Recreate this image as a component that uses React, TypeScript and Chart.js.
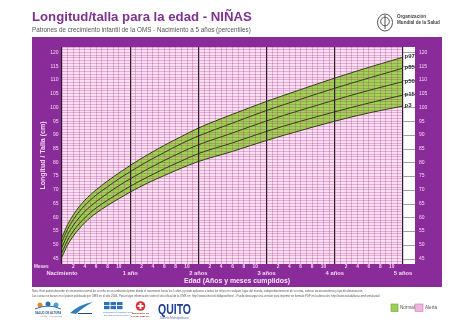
import React, { useEffect, useRef } from 'react';
import { Chart, registerables } from 'chart.js';

Chart.register(...registerables);

// ---- Data (WHO girls length/height-for-age percentiles) ----
const months = [0, 1, 2, 3, 4, 5, 6, 8, 10, 12, 15, 18, 21, 24, 30, 36, 42, 48, 54, 60];
const p3 = [45.6, 50.0, 53.2, 55.8, 58.0, 59.9, 61.5, 64.3, 66.8, 69.2, 72.4, 75.2, 77.9, 80.3, 84.0, 88.0, 91.6, 95.0, 98.0, 100.5];
const p15 = [47.2, 51.7, 55.0, 57.6, 59.8, 61.7, 63.4, 66.2, 68.8, 71.3, 74.6, 77.7, 80.5, 83.2, 87.1, 91.3, 95.0, 98.4, 101.6, 104.5];
const p50 = [49.1, 53.7, 57.1, 59.8, 62.1, 64.0, 65.7, 68.7, 71.5, 74.0, 77.5, 80.7, 83.7, 86.4, 90.7, 95.1, 99.0, 102.7, 106.2, 109.4];
const p85 = [51.1, 55.7, 59.2, 62.0, 64.3, 66.3, 68.1, 71.1, 74.0, 76.6, 80.3, 83.6, 86.8, 89.6, 94.3, 98.9, 103.0, 107.0, 110.7, 114.3];
const p97 = [52.7, 57.4, 60.9, 63.8, 66.2, 68.2, 70.0, 73.2, 76.1, 78.9, 82.7, 86.2, 89.4, 92.5, 97.5, 102.2, 106.5, 110.7, 114.6, 118.3];
const percentileNames = ['p3', 'p15', 'p50', 'p85', 'p97'];

const yTickLabels = [45, 50, 55, 60, 65, 70, 75, 80, 85, 90, 95, 100, 105, 110, 115, 120];
const monthTickLabels = [2, 4, 6, 8, 10];
const yearMonths = [0, 12, 24, 36, 48, 60];
const yearLabels = ['Nacimiento', '1 año', '2 años', '3 años', '4 años', '5 años'];

const titleText = 'Longitud/talla para la edad - NIÑAS';
const subtitleText = 'Patrones de crecimiento infantil de la OMS - Nacimiento a 5 años (percentiles)';
const yTitle = 'Longitud / Talla (cm)';
const xTitle = 'Edad (Años y meses cumplidos)';
const noteLines = [
  'Nota: Este patrón describe el crecimiento normal de un niño en un ambiente óptimo desde el nacimiento hasta los 5 años y puede aplicarse a todos los niños en cualquier lugar del mundo, independientemente de su etnia, estatus socioeconómico y tipo de alimentación.',
  'Las curvas se basan en el patrón publicado por OMS en el año 2006. Para mayor información visite el sitio oficial de la OMS en: http://www.who.int/childgrowth/es/ - Puede descargar una versión para imprimir en formato PDF en la dirección: http://www.saludaltura.com/formularios/',
];
const legendLabels = ['Normal', 'Alerta'];

const PURPLE = '#8a2b9a';
const PINK_BG = '#fbdff2';
const GREEN = '#9fd450';
const GRID = 'rgba(160,40,130,0.27)';
const LABEL = '#f3d8f0';
const FONT = '"Liberation Sans", Arial, sans-serif';

function fitText(ctx: any, text: string, x: number, y: number, w: number) {
  const tw = ctx.measureText(text).width;
  ctx.save();
  ctx.translate(x, y);
  ctx.scale(w / tw, 1);
  ctx.fillText(text, 0, 0);
  ctx.restore();
}

const decorPlugin = {
  id: 'decor',
  beforeDraw(chart: any) {
    const { ctx, chartArea: a } = chart;
    ctx.save();
    ctx.fillStyle = '#ffffff';
    ctx.fillRect(0, 0, chart.width, chart.height);
    ctx.fillStyle = PURPLE;
    ctx.fillRect(32, 37, 410, 250);
    ctx.fillStyle = PINK_BG;
    ctx.fillRect(a.left, a.top, a.right - a.left, a.bottom - a.top);
    ctx.fillStyle = '#ffffff';
    ctx.fillRect(a.right, a.top, 12, a.bottom - a.top);
    ctx.restore();
  },
  afterDraw(chart: any) {
    const { ctx, chartArea: a } = chart;
    const xs = chart.scales.x;
    const ys = chart.scales.y;
    ctx.save();

    // Header
    ctx.fillStyle = '#7e3191';
    ctx.font = `bold 13.2px ${FONT}`;
    ctx.textAlign = 'left';
    ctx.textBaseline = 'alphabetic';
    ctx.fillText(titleText, 32, 20.8);
    ctx.fillStyle = '#555';
    ctx.font = `6.3px ${FONT}`;
    ctx.fillText(subtitleText, 32, 32);

    // WHO logo
    ctx.strokeStyle = '#555';
    ctx.lineWidth = 1;
    ctx.beginPath();
    ctx.ellipse(385, 22.5, 7.5, 8.5, 0, 0, Math.PI * 2);
    ctx.stroke();
    ctx.beginPath();
    ctx.arc(385, 21.5, 4.3, 0, Math.PI * 2);
    ctx.stroke();
    ctx.beginPath();
    ctx.moveTo(385, 15);
    ctx.lineTo(385, 29);
    ctx.stroke();
    ctx.fillStyle = '#444';
    ctx.font = `bold 4.6px ${FONT}`;
    ctx.fillText('Organización', 397, 18.2);
    ctx.fillText('Mundial de la Salud', 397, 24);

    // Left y labels
    ctx.fillStyle = LABEL;
    ctx.font = `5px ${FONT}`;
    ctx.textBaseline = 'middle';
    ctx.textAlign = 'right';
    for (const v of yTickLabels) ctx.fillText(String(v), 58.5, ys.getPixelForValue(v));

    // Right strip ticks + labels
    ctx.textAlign = 'left';
    for (const v of yTickLabels) {
      const y = Math.round(ys.getPixelForValue(v)) + 0.5;
      ctx.strokeStyle = '#a0a0a0';
      ctx.lineWidth = 1;
      ctx.beginPath();
      ctx.moveTo(a.right, y);
      ctx.lineTo(a.right + 12, y);
      ctx.stroke();
      ctx.fillStyle = LABEL;
      ctx.fillText(String(v), 419, ys.getPixelForValue(v));
    }

    // Percentile labels
    ctx.fillStyle = '#333';
    ctx.font = `bold 6px ${FONT}`;
    const series = [p3, p15, p50, p85, p97];
    series.forEach((s, i) => {
      ctx.fillText(percentileNames[i], a.right + 1.5, ys.getPixelForValue(s[s.length - 1]) - 0.5);
    });

    // Y title
    ctx.save();
    ctx.translate(43.5, (a.top + a.bottom) / 2);
    ctx.rotate(-Math.PI / 2);
    ctx.textAlign = 'center';
    ctx.fillStyle = LABEL;
    ctx.font = `bold 7px ${FONT}`;
    ctx.fillText(yTitle, 0, 0);
    ctx.restore();

    // Bottom labels
    ctx.fillStyle = LABEL;
    ctx.font = `bold 4.8px ${FONT}`;
    ctx.textAlign = 'left';
    ctx.fillText('Meses', 34, 266.5);
    ctx.textAlign = 'center';
    for (let k = 0; k < 5; k++) {
      for (const m of monthTickLabels) {
        ctx.fillText(String(m), xs.getPixelForValue(12 * k + m), 266.5);
      }
    }
    ctx.font = `bold 5.8px ${FONT}`;
    yearMonths.forEach((m, i) => ctx.fillText(yearLabels[i], xs.getPixelForValue(m), 273.5));
    ctx.fillStyle = '#f6e4f4';
    ctx.font = `bold 6.9px ${FONT}`;
    ctx.fillText(xTitle, 237, 281);

    // Notes
    ctx.textAlign = 'left';
    ctx.textBaseline = 'alphabetic';
    ctx.fillStyle = '#555';
    ctx.font = `3.4px ${FONT}`;
    fitText(ctx, noteLines[0], 32, 292, 331);
    fitText(ctx, noteLines[1], 32, 296.8, 348);

    // Logos
    // Salud de Altura
    ctx.fillStyle = '#e58a2a';
    ctx.beginPath(); ctx.arc(40, 305, 2.5, 0, Math.PI * 2); ctx.fill();
    ctx.fillStyle = '#2a6fb5';
    ctx.beginPath(); ctx.arc(48, 304, 2.5, 0, Math.PI * 2); ctx.fill();
    ctx.fillStyle = '#4aa3d8';
    ctx.beginPath(); ctx.arc(56, 305, 2.5, 0, Math.PI * 2); ctx.fill();
    ctx.strokeStyle = '#2a6fb5';
    ctx.beginPath(); ctx.moveTo(35, 309); ctx.quadraticCurveTo(48, 303, 61, 309); ctx.stroke();
    ctx.fillStyle = '#2a5a9a';
    ctx.font = `bold 2.8px ${FONT}`;
    ctx.fillText('SALUD DE ALTURA', 35, 313.5);
    ctx.fillStyle = '#888';
    ctx.font = `2.4px ${FONT}`;
    ctx.fillText('Ambato - Tungurahua', 39, 317);
    // Swoosh
    ctx.fillStyle = '#2f7fc0';
    ctx.beginPath();
    ctx.moveTo(70, 313); ctx.quadraticCurveTo(80, 304, 93, 302); ctx.quadraticCurveTo(82, 308, 76, 314); ctx.closePath(); ctx.fill();
    ctx.fillStyle = '#1b4f8a';
    ctx.fillRect(78, 313, 14, 1);
    // Box logo
    ctx.fillStyle = '#2f6fb8';
    for (let r = 0; r < 2; r++) for (let c = 0; c < 3; c++) ctx.fillRect(104 + c * 6.5, 302 + r * 4, 5.5, 3.2);
    ctx.fillStyle = '#4a78b0';
    ctx.font = `2.2px ${FONT}`;
    ctx.fillText('MINISTERIO COORDINADOR', 103, 313);
    ctx.fillText('DE DESARROLLO SOCIAL', 104, 316);
    // Ministerio
    ctx.fillStyle = '#d63030';
    ctx.beginPath(); ctx.arc(140.5, 306, 4.8, 0, Math.PI * 2); ctx.fill();
    ctx.fillStyle = '#ffffff';
    ctx.fillRect(139.5, 303, 2, 6); ctx.fillRect(137.5, 305, 6, 2);
    ctx.fillStyle = '#7a1d1d';
    ctx.font = `bold 2.3px ${FONT}`;
    ctx.textAlign = 'center';
    ctx.fillText('MINISTERIO DE', 140.5, 314);
    ctx.fillText('SALUD PÚBLICA', 140.5, 317);
    // QUITO
    ctx.textAlign = 'left';
    ctx.fillStyle = '#1e3f96';
    ctx.font = `bold 15px ${FONT}`;
    fitText(ctx, 'QUITO', 158, 313.5, 33);
    ctx.fillStyle = '#5a6fa8';
    ctx.font = `3px ${FONT}`;
    ctx.fillText('Distrito Metropolitano', 160, 318.5);

    // Legend
    ctx.fillStyle = '#9ccf52';
    ctx.fillRect(391, 304, 7, 7.5);
    ctx.strokeStyle = '#70a030';
    ctx.lineWidth = 0.6;
    ctx.strokeRect(391, 304, 7, 7.5);
    ctx.fillStyle = '#f2b3df';
    ctx.fillRect(415, 304, 8, 7.5);
    ctx.strokeStyle = '#c57db0';
    ctx.strokeRect(415, 304, 8, 7.5);
    ctx.fillStyle = '#555';
    ctx.font = `4.6px ${FONT}`;
    ctx.textBaseline = 'middle';
    ctx.fillText(legendLabels[0], 400, 308);
    ctx.fillText(legendLabels[1], 425, 308);

    ctx.restore();
  },
};

export default function App() {
  const ref = useRef<HTMLCanvasElement | null>(null);
  useEffect(() => {
    document.body.style.margin = '0';
    if (!ref.current) return;
    const mk = (data: number[], extra: any = {}) => ({
      data: months.map((m, i) => ({ x: m, y: data[i] })),
      borderColor: '#24420f',
      borderWidth: 1,
      pointRadius: 0,
      cubicInterpolationMode: 'monotone',
      fill: false,
      ...extra,
    });
    const chart = new Chart(ref.current, {
      type: 'line',
      data: {
        datasets: [
          mk(p3, { fill: '+4', backgroundColor: GREEN }),
          mk(p15),
          mk(p50),
          mk(p85),
          mk(p97),
        ],
      },
      plugins: [decorPlugin],
      options: {
        responsive: false,
        animation: false,
        layout: { padding: { left: 62, right: 71, top: 47, bottom: 70 } },
        plugins: {
          legend: { display: false },
          tooltip: { enabled: false },
          filler: { drawTime: 'beforeDatasetsDraw' },
        },
        scales: {
          x: {
            type: 'linear',
            min: 0,
            max: 60,
            ticks: { display: false, stepSize: 1, autoSkip: false },
            border: { display: false },
            grid: {
              z: 1,
              drawTicks: false,
              color: (c: any) => (c.tick && c.tick.value % 12 === 0 ? '#2a1a28' : GRID),
              lineWidth: (c: any) => (c.tick && c.tick.value % 12 === 0 ? 1.2 : 1),
            },
          },
          y: {
            type: 'linear',
            min: 43,
            max: 122,
            ticks: { display: false, stepSize: 1, autoSkip: false },
            border: { display: false },
            grid: { z: 1, drawTicks: false, color: GRID, lineWidth: 1 },
          },
        },
      },
    } as any);
    return () => chart.destroy();
  }, []);
  return <canvas ref={ref} width={474} height={334} style={{ display: 'block' }} />;
}
